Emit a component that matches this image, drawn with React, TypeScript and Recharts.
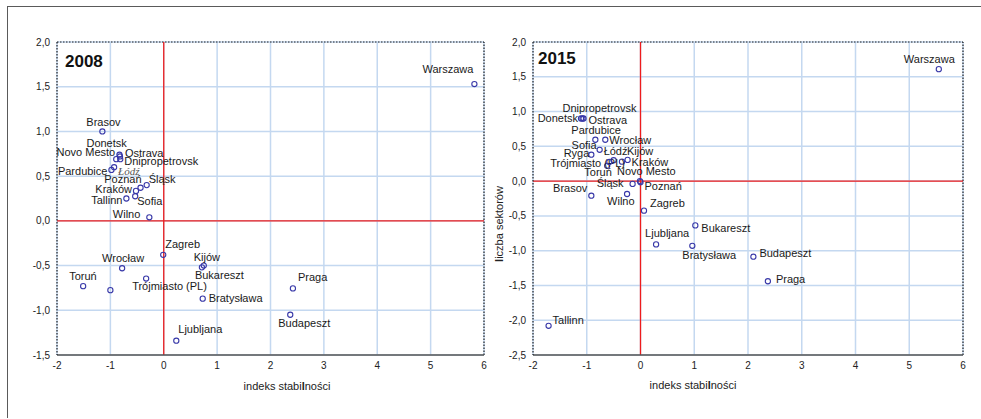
import React from 'react';
import { ScatterChart, Scatter, XAxis, YAxis, CartesianGrid, ReferenceLine } from 'recharts';

const FONT = '"Liberation Sans", Arial, sans-serif';

const xTicks = [-2, -1, 0, 1, 2, 3, 4, 5, 6];
const yTicks2008 = [2, 1.5, 1, 0.5, 0, -0.5, -1, -1.5];
const yTicks2015 = [2, 1.5, 1, 0.5, 0, -0.5, -1, -1.5, -2, -2.5];

const names2008 = ['Warszawa', 'Brasov', 'Donetsk', 'Ostrava', 'Novo Mesto', 'Dnipropetrovsk', 'Pardubice', 'Łódź', 'Poznań', 'Śląsk', 'Kraków', 'Sofia', 'Tallinn', 'Wilno', 'Zagreb', 'Kijów', 'Bukareszt', 'Wrocław', 'Toruń', 'Ryga', 'Trójmiasto (PL)', 'Bratysława', 'Praga', 'Budapeszt', 'Ljubljana'];
const stab2008 = [5.82, -1.15, -0.83, -0.82, -0.89, -0.815, -0.98, -0.93, -0.435, -0.32, -0.52, -0.535, -0.70, -0.27, -0.01, 0.75, 0.715, -0.78, -1.51, -1.0, -0.33, 0.73, 2.42, 2.37, 0.235];
const sect2008 = [1.53, 1.0, 0.74, 0.72, 0.69, 0.69, 0.57, 0.6, 0.37, 0.40, 0.335, 0.275, 0.25, 0.04, -0.38, -0.50, -0.52, -0.53, -0.73, -0.775, -0.645, -0.87, -0.755, -1.05, -1.34];

const names2015 = ['Warszawa', 'Dnipropetrovsk', 'Donetsk', 'Ostrava', 'Pardubice', 'Wrocław', 'Sofia', 'Ryga', 'Łódź', 'Kijów', 'Trójmiasto (PL)', 'Toruń', 'Kraków', 'Novo Mesto', 'Poznań', 'Śląsk', 'Wilno', 'Brasov', 'Zagreb', 'Bukareszt', 'Ljubljana', 'Bratysława', 'Budapeszt', 'Praga', 'Tallinn'];
const stab2015 = [5.55, -1.08, -1.107, -1.06, -0.84, -0.655, -0.76, -0.915, -0.50, -0.345, -0.62, -0.58, -0.24, -0.01, 0.0, -0.147, -0.25, -0.915, 0.065, 1.02, 0.29, 0.964, 2.10, 2.37, -1.71];
const sect2015 = [1.61, 0.90, 0.90, 0.90, 0.595, 0.595, 0.45, 0.38, 0.30, 0.28, 0.22, 0.275, 0.305, 0.0, -0.015, -0.04, -0.185, -0.21, -0.425, -0.637, -0.91, -0.93, -1.087, -1.44, -2.08];

// label placement relative to each point: [dx, dy, anchor, style]
type Place = [number, number, 'start' | 'middle' | 'end', string?];
const labelPlace2008: Record<string, Place> = {
  'Warszawa': [-1, -11, 'end'],
  'Brasov': [-16, -5, 'start'],
  'Donetsk': [-33, -8, 'start'],
  'Novo Mesto': [-1, -3, 'end'],
  'Ostrava': [5, 1, 'start'],
  'Dnipropetrovsk': [4, 6, 'start'],
  'Pardubice': [-4, 5, 'end'],
  'Łódź': [4, 8, 'start', 'serif'],
  'Poznań': [1, -5, 'end'],
  'Śląsk': [2, -2, 'start'],
  'Kraków': [-4, 2, 'end'],
  'Tallinn': [-4, 5, 'end'],
  'Sofia': [2, 9, 'start'],
  'Wilno': [-9, 1, 'end'],
  'Zagreb': [2, -7, 'start'],
  'Kijów': [-10, -5, 'start'],
  'Bukareszt': [-7, 12, 'start'],
  'Wrocław': [-20, -6, 'start'],
  'Toruń': [-14, -6, 'start'],
  'Trójmiasto (PL)': [-14, 11, 'start'],
  'Bratysława': [6, 3, 'start'],
  'Praga': [5, -7, 'start'],
  'Budapeszt': [-12, 12, 'start'],
  'Ljubljana': [2, -8, 'start'],
};
const labelPlace2015: Record<string, Place> = {
  'Warszawa': [-35, -6, 'start'],
  'Dnipropetrovsk': [-20, -7, 'start'],
  'Donetsk': [-3, 3, 'end'],
  'Ostrava': [5, 5, 'start'],
  'Pardubice': [-24, -6, 'start'],
  'Wrocław': [4, 4, 'start'],
  'Sofia': [-3, -1, 'end'],
  'Ryga': [-2, 2, 'end'],
  'Łódź': [-10, -5, 'start'],
  'Kijów': [5, -7, 'start'],
  'Trójmiasto (PL)': [-57, 1, 'start'],
  'Kraków': [4, 6, 'start'],
  'Toruń': [-25, 14, 'start'],
  'Novo Mesto': [-23, -6, 'start'],
  'Śląsk': [-9, 3, 'end'],
  'Poznań': [4, 8, 'start'],
  'Brasov': [-4, -4, 'end'],
  'Wilno': [-20, 11, 'start'],
  'Zagreb': [6, -4, 'start'],
  'Bukareszt': [6, 7, 'start'],
  'Ljubljana': [-11, -7, 'start'],
  'Bratysława': [-10, 13, 'start'],
  'Budapeszt': [6, 0, 'start'],
  'Praga': [8, 2, 'start'],
  'Tallinn': [4, -2, 'start'],
};

const build = (names: string[], xs: number[], ys: number[]) =>
  names.map((name, i) => ({ name, x: xs[i], y: ys[i] }));

const data2008 = build(names2008, stab2008, sect2008);
const data2015 = build(names2015, stab2015, sect2015);

const fmtY = (v: number) => v.toFixed(1).replace('.', ',');

const makeShape = (place: Record<string, Place>) => (props: any) => {
  const { cx, cy, payload } = props;
  const p = place[payload.name];
  return (
    <g>
      <circle cx={cx} cy={cy} r={2.6} fill="none" stroke="#3838a8" strokeWidth={1.1} />
      {p && (
        <text
          x={cx + p[0]}
          y={cy + p[1]}
          textAnchor={p[2]}
          fontSize={11}
          fontFamily={p[3] === 'serif' ? '"Liberation Serif", serif' : FONT}
          fontStyle={p[3] === 'serif' ? 'italic' : 'normal'}
          fill={p[3] === 'serif' ? '#555' : '#1a1a1a'}
        >
          {payload.name}
        </text>
      )}
    </g>
  );
};

interface PanelProps {
  data: { name: string; x: number; y: number }[];
  place: Record<string, Place>;
  yTicks: number[];
  yDomain: [number, number];
  width: number;
  right: number;
  yAxisWidth: number;
  title: string;
  titleX: number;
  titleY: number;
  xTitleX: number;
  xTitleY: number;
  yTitle?: { x: number; y: number };
}

const Panel = (p: PanelProps) => {
  const xLabel = () => (
    <g>
      <text x={p.titleX} y={p.titleY} fontSize={17} fontWeight="bold" fontFamily={FONT} fill="#111">
        {p.title}
      </text>
      <text x={p.xTitleX} y={p.xTitleY} fontSize={11} fontFamily={FONT} fill="#222" textAnchor="middle">
        indeks stabi<tspan fontWeight="bold">l</tspan>ności
      </text>
    </g>
  );
  const yLabel = () =>
    p.yTitle ? (
      <text
        x={p.yTitle.x}
        y={p.yTitle.y}
        fontSize={11}
        fontFamily={FONT}
        fill="#222"
        textAnchor="middle"
        transform={`rotate(-90, ${p.yTitle.x}, ${p.yTitle.y})`}
      >
        <tspan fontWeight="bold">l</tspan>iczba sektorów
      </text>
    ) : null;
  return (
    <ScatterChart width={p.width} height={411} margin={{ top: 34, right: p.right, bottom: 34, left: 0 }}>
      <CartesianGrid stroke="#c4d8f0" strokeWidth={1.5} />
      <XAxis
        type="number"
        dataKey="x"
        domain={[-2, 6]}
        ticks={xTicks}
        interval={0}
        allowDataOverflow
        height={30}
        tickLine={false}
        tickMargin={1}
        tick={{ fontSize: 10, fill: '#222', fontFamily: FONT }}
        axisLine={{ stroke: '#555', strokeWidth: 1.5 }}
        label={xLabel}
      />
      <YAxis
        type="number"
        dataKey="y"
        domain={p.yDomain}
        ticks={p.yTicks}
        interval={0}
        allowDataOverflow
        width={p.yAxisWidth}
        tickLine={false}
        tickMargin={1}
        tickFormatter={fmtY}
        tick={{ fontSize: 10, fill: '#222', fontFamily: FONT }}
        axisLine={{ stroke: '#222', strokeDasharray: '1.5 1.5', strokeWidth: 1.2 }}
        label={yLabel}
      />
      <ReferenceLine x={6} stroke="#222" strokeDasharray="1.5 1.5" strokeWidth={1.2} />
      <ReferenceLine y={p.yDomain[1]} stroke="#222" strokeDasharray="1.5 1.5" strokeWidth={1.2} />
      <ReferenceLine x={0} stroke="#ee1c1c" strokeWidth={1.3} />
      <ReferenceLine y={0} stroke="#ee1c1c" strokeWidth={1.3} />
      <Scatter data={p.data} shape={makeShape(p.place)} isAnimationActive={false} />
    </ScatterChart>
  );
};

export default function App() {
  return (
    <>
      <style>{'body{margin:6px 0 0 7px;}'}</style>
      <div
        style={{
          position: 'relative',
          width: 974,
          height: 412,
          boxSizing: 'border-box',
          borderTop: '1.5px solid #5a5a5a',
          borderLeft: '1.5px solid #5a5a5a',
        }}
      >
        <div style={{ position: 'absolute', left: -0.5, top: 0.5 }}>
          <Panel
            data={data2008}
            place={labelPlace2008}
            yTicks={yTicks2008}
            yDomain={[-1.5, 2]}
            width={490}
            right={14}
            yAxisWidth={49}
            title="2008"
            titleX={57}
            titleY={59}
            xTitleX={279}
            xTitleY={382}
          />
        </div>
        <div style={{ position: 'absolute', left: 479.5, top: 0.5 }}>
          <Panel
            data={data2015}
            place={labelPlace2015}
            yTicks={yTicks2015}
            yDomain={[-2.5, 2]}
            width={493}
            right={18}
            yAxisWidth={45}
            title="2015"
            titleX={50}
            titleY={56}
            xTitleX={205}
            xTitleY={381}
            yTitle={{ x: 15, y: 216 }}
          />
        </div>
      </div>
    </>
  );
}
